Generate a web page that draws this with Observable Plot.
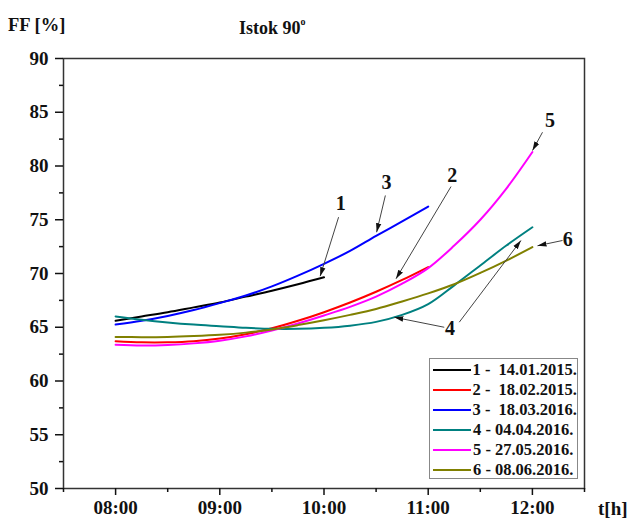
<!DOCTYPE html>
<html><head><meta charset="utf-8">
<script src="https://cdn.jsdelivr.net/npm/d3@7"></script>
<script src="https://cdn.jsdelivr.net/npm/@observablehq/plot@0.6"></script>
<style>
body{margin:0;background:#fff;}
#wrap{position:relative;width:630px;height:519px;font-family:"Liberation Serif","Times New Roman",serif;font-weight:bold;color:#111;}
.ov{position:absolute;white-space:pre;line-height:1;}
#legend{position:absolute;left:429px;top:358px;width:149px;height:121px;border:1px solid #888;background:#fff;box-sizing:border-box;padding-top:1px;}
.row{height:20px;display:flex;align-items:center;font-size:16.5px;white-space:pre;}
.sw{display:inline-block;width:38px;height:2px;margin-left:3px;margin-right:2px;}
</style></head><body><div id="wrap"></div>
<script>
// ---- data ----
const seriesNames = ["1 -  14.01.2015.", "2 -  18.02.2015.", "3 -  18.03.2016.", "4 - 04.04.2016.", "5 - 27.05.2016.", "6 - 08.06.2016."];
const seriesColors = ["#000000", "#ff0000", "#0000ff", "#008080", "#ff00ff", "#808000"];

const t1 = [8, 8.25, 8.5, 8.75, 9, 9.25, 9.5, 9.75, 10];
const v1 = [65.6, 66.0, 66.4, 66.85, 67.3, 67.85, 68.4, 69.0, 69.65];

const t2 = [8, 8.25, 8.5, 8.75, 9, 9.25, 9.5, 9.75, 10, 10.25, 10.5, 10.75, 11];
const v2 = [63.7, 63.6, 63.6, 63.7, 63.95, 64.35, 64.9, 65.6, 66.4, 67.3, 68.3, 69.4, 70.6];

const t3 = [8, 8.25, 8.5, 8.75, 9, 9.25, 9.5, 9.75, 10, 10.25, 10.5, 10.75, 11];
const v3 = [65.25, 65.6, 66.05, 66.6, 67.25, 67.95, 68.8, 69.8, 70.9, 72.1, 73.5, 74.85, 76.23];

const t4 = [8, 8.25, 8.5, 8.75, 9, 9.25, 9.5, 9.75, 10, 10.25, 10.5, 10.75, 11, 11.25, 11.5, 11.75, 12];
const v4 = [66.0, 65.7, 65.45, 65.25, 65.1, 64.95, 64.85, 64.85, 64.95, 65.15, 65.5, 66.15, 67.15, 68.9, 70.75, 72.6, 74.3];

const t5 = [8, 8.25, 8.5, 8.75, 9, 9.25, 9.5, 9.75, 10, 10.25, 10.5, 10.75, 11, 11.25, 11.5, 11.75, 12];
const v5 = [63.37, 63.3, 63.35, 63.5, 63.75, 64.15, 64.7, 65.35, 66.1, 66.9, 67.85, 69.05, 70.5, 72.6, 75.0, 77.9, 81.3];

const t6 = [8, 8.25, 8.5, 8.75, 9, 9.25, 9.5, 9.75, 10, 10.25, 10.5, 10.75, 11, 11.25, 11.5, 11.75, 12];
const v6 = [64.1, 64.08, 64.1, 64.18, 64.3, 64.5, 64.8, 65.2, 65.65, 66.15, 66.7, 67.4, 68.15, 69.0, 70.05, 71.2, 72.45];

const xTicks = [8, 9, 10, 11, 12];
const xTickLabels = ["08:00", "09:00", "10:00", "11:00", "12:00"];
const xMinor = [7.5, 8.5, 9.5, 10.5, 11.5, 12.5];
const yTicks = [50, 55, 60, 65, 70, 75, 80, 85, 90];
const yMinor = [52.5, 57.5, 62.5, 67.5, 72.5, 77.5, 82.5, 87.5];

// annotation labels and arrows (data units)
const annoText = ["1", "3", "2", "5", "6", "4"];
const annoT = [10.16, 10.60, 11.23, 12.17, 12.34, 11.21];
const annoV = [76.5, 78.5, 79.1, 84.2, 73.2, 64.85];
const arrowT1 = [10.14, 10.589, 11.219, 12.097, 12.289, 11.154, 11.298];
const arrowV1 = [75.24, 77.26, 78.09, 83.14, 73.07, 65.0, 65.47];
const arrowT2 = [9.963, 10.505, 10.691, 12.001, 12.049, 10.675, 11.89];
const arrowV2 = [69.75, 73.84, 69.51, 81.44, 72.58, 65.93, 73.07];

// ---- build ----
const allT = [t1, t2, t3, t4, t5, t6];
const allV = [v1, v2, v3, v4, v5, v6];
const rows = [];
allT.forEach((ts, i) => ts.forEach((t, j) => rows.push({t, v: allV[i][j], s: seriesNames[i]})));
const labels = annoText.map((k, i) => ({k, t: annoT[i], v: annoV[i]}));
const arrows = arrowT1.map((t, i) => ({x1: t, y1: arrowV1[i], x2: arrowT2[i], y2: arrowV2[i]}));

const headMarker = (color) => {
  const m = d3.create("svg:marker")
    .attr("viewBox", "-10 -5 10 10")
    .attr("markerWidth", 9).attr("markerHeight", 9)
    .attr("markerUnits", "userSpaceOnUse")
    .attr("orient", "auto").attr("refX", 0).attr("refY", 0);
  m.append("path").attr("d", "M-10,-3L0,0L-10,3Z").attr("fill", "#111").attr("stroke", "none");
  return m.node();
};

const fmtX = d => xTickLabels[xTicks.indexOf(d)];

const chart = Plot.plot({
  width: 630, height: 519,
  marginTop: 58, marginRight: 46, marginBottom: 31, marginLeft: 63,
  style: {fontFamily: "'Liberation Serif', 'Times New Roman', serif", fontWeight: "bold", color: "#111", background: "#fff"},
  x: {domain: [7.5, 12.5]},
  y: {domain: [50, 90]},
  color: {domain: seriesNames, range: seriesColors},
  marks: [
    Plot.frame({stroke: "#333", strokeWidth: 1.5}),
    Plot.axisX(xTicks, {tickSize: 7, tickPadding: 5, fontSize: 19, tickFormat: fmtX, strokeWidth: 1.5, label: null}),
    Plot.axisX(xMinor, {tickSize: 4, tickFormat: () => "", strokeWidth: 1.5, label: null}),
    Plot.axisY(yTicks, {tickSize: 8, tickPadding: 7, fontSize: 19, strokeWidth: 1.5, label: null}),
    Plot.axisY(yMinor, {tickSize: 4, tickFormat: () => "", strokeWidth: 1.5, label: null}),
    Plot.line(rows, {x: "t", y: "v", z: "s", stroke: "s", strokeWidth: 2, curve: "catmull-rom"}),
    Plot.link(arrows, {x1: "x1", y1: "y1", x2: "x2", y2: "y2", stroke: "#444", strokeWidth: 1, markerEnd: headMarker}),
    Plot.text(labels, {x: "t", y: "v", text: "k", fontSize: 20, fontWeight: "bold", fill: "#111"})
  ]
});

const wrap = document.getElementById("wrap");
wrap.appendChild(chart);

const addOv = (html, left, top, size) => {
  const d = document.createElement("div");
  d.className = "ov"; d.innerHTML = html;
  d.style.left = left + "px"; d.style.top = top + "px"; d.style.fontSize = size + "px";
  wrap.appendChild(d);
};
addOv("FF [%]", 8, 16, 18.5);
addOv('Istok 90<sup style="font-size:10px;vertical-align:9px">o</sup>', 239, 17, 18);
addOv("t[h]", 598, 499, 19);

const lg = document.createElement("div");
lg.id = "legend";
seriesNames.forEach((n, i) => {
  const r = document.createElement("div");
  r.className = "row";
  r.innerHTML = `<span class="sw" style="background:${seriesColors[i]}"></span>${n}`;
  lg.appendChild(r);
});
wrap.appendChild(lg);
</script></body></html>
